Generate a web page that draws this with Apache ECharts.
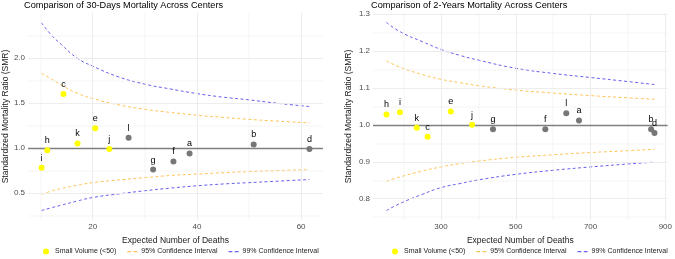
<!DOCTYPE html>
<html>
<head>
<meta charset="utf-8">
<script src="https://cdn.jsdelivr.net/npm/echarts@6/dist/echarts.min.js"></script>
<style>
html,
body,
#main {
  margin: 0;
  padding: 0;
  width: 675px;
  height: 259px;
  overflow: hidden;
  background: #fff;
}
</style>
</head>
<body>
<div id="main"></div>
<script>
// 中心编号，以及是否为小体量中心 (<50)
const centers = ["a", "b", "c", "d", "e", "f", "g", "h", "i", "j", "k", "l"];
const smallVolume = [false, false, true, false, true, false, false, true, true, true, true, false];

// 30天死亡率
const expected30 = [38.6, 50.9, 14.4, 61.6, 20.5, 35.5, 31.6, 11.3, 10.2, 23.2, 17.1, 26.9];
const smr30 = [0.94, 1.04, 1.6, 0.99, 1.22, 0.85, 0.76, 0.975, 0.78, 0.99, 1.05, 1.115];

// 2年死亡率
const expected2y = [669, 862, 264, 871, 326, 579, 439, 154, 190, 383, 235, 635];
const smr2y = [1.012, 0.988, 0.968, 0.978, 1.036, 0.988, 0.988, 1.028, 1.034, 1.0, 0.992, 1.031];

// 置信区间曲线 (30天)
const ciX30 = [10.2, 12, 14, 17, 20, 25, 30, 35, 40, 45, 50, 55, 61.6];
const upper99_30 = [2.39, 2.26, 2.15, 2.0, 1.91, 1.79, 1.71, 1.655, 1.605, 1.565, 1.535, 1.5, 1.46];
const upper95_30 = [1.83, 1.77, 1.7, 1.61, 1.55, 1.48, 1.43, 1.395, 1.365, 1.34, 1.318, 1.3, 1.28];
const lower95_30 = [0.485, 0.52, 0.55, 0.585, 0.615, 0.645, 0.67, 0.695, 0.71, 0.725, 0.738, 0.748, 0.76];
const lower99_30 = [0.305, 0.335, 0.365, 0.41, 0.45, 0.49, 0.525, 0.555, 0.58, 0.6, 0.615, 0.63, 0.65];

// 置信区间曲线 (2年)
const ciX2y = [154, 190, 250, 300, 350, 400, 500, 600, 700, 800, 871];
const upper99_2y = [1.277, 1.252, 1.225, 1.204, 1.188, 1.175, 1.153, 1.139, 1.128, 1.117, 1.109];
const upper95_2y = [1.173, 1.156, 1.136, 1.123, 1.114, 1.106, 1.094, 1.086, 1.079, 1.073, 1.069];
const lower95_2y = [0.847, 0.859, 0.875, 0.886, 0.895, 0.902, 0.912, 0.919, 0.925, 0.93, 0.934];
const lower99_2y = [0.768, 0.787, 0.812, 0.83, 0.841, 0.851, 0.866, 0.877, 0.886, 0.894, 0.899];

// 刻度
const xTicks30 = [20, 40, 60];
const xMinor30 = [10, 30, 50];
const yTicks30 = [0.5, 1.0, 1.5, 2.0];
const yMinor30 = [0.25, 0.75, 1.25, 1.75, 2.25];
const xTicks2y = [300, 500, 700, 900];
const xMinor2y = [200, 400, 600, 800];
const yTicks2y = [0.8, 0.9, 1.0, 1.1, 1.2, 1.3];
const yMinor2y = [0.75, 0.85, 0.95, 1.05, 1.15, 1.25];

const FONT = "Liberation Sans, Arial, sans-serif";
const SMALL = "Small Volume (<50)";
const CI95 = "95% Confidence Interval";
const CI99 = "99% Confidence Interval";
const ORANGE = "rgba(255,165,0,0.65)";
const BLUE = "rgba(40,30,230,0.7)";
const DASH_ICON = "path://M0,0h3v1h-3zM5,0h3v1h-3z"; // 图例中的虚线

function pairs(xs, ys) {
  return xs.map((x, i) => [x, ys[i]]);
}

function ciLine(k, name, color, data) {
  return {
    name: name,
    type: "line",
    xAxisIndex: k,
    yAxisIndex: k,
    symbol: "none", // 不显示小圆点
    smooth: true,
    silent: true,
    z: 3,
    itemStyle: { color: color },
    lineStyle: { color: color, width: 1, type: [3, 2.5] },
    data: data,
  };
}

// 一个面板的全部 series
function panelSeries(k, ex, smr, ciX, u95, l95, u99, l99, xMaj, xMin, yMaj, yMin) {
  let gridLines = [];
  xMaj.forEach((v) => gridLines.push({ xAxis: v, lineStyle: { width: 0.9 } }));
  xMin.forEach((v) => gridLines.push({ xAxis: v, lineStyle: { width: 0.45 } }));
  yMaj.forEach((v) => gridLines.push({ yAxis: v, lineStyle: { width: 0.9 } }));
  yMin.forEach((v) => gridLines.push({ yAxis: v, lineStyle: { width: 0.45 } }));

  let pts = centers.map((c, i) => [ex[i], smr[i], c]);
  let pointLabel = {
    show: true,
    position: "top",
    distance: 2,
    formatter: (p) => p.data[2],
    fontSize: 9,
    fontFamily: FONT,
    color: "#000",
  };

  return [
    {
      type: "line",
      xAxisIndex: k,
      yAxisIndex: k,
      data: [],
      silent: true,
      z: 0,
      markLine: {
        symbol: "none",
        silent: true,
        animation: false,
        label: { show: false },
        lineStyle: { color: "#ebebeb", type: "solid" },
        data: gridLines,
      },
    },
    {
      type: "line",
      xAxisIndex: k,
      yAxisIndex: k,
      data: [],
      silent: true,
      z: 1,
      markLine: {
        symbol: "none",
        silent: true,
        animation: false,
        label: { show: false },
        lineStyle: { color: "#808080", width: 1.4, type: "solid" },
        data: [{ yAxis: 1 }],
      },
    },
    ciLine(k, CI95, ORANGE, pairs(ciX, u95)),
    ciLine(k, CI95, ORANGE, pairs(ciX, l95)),
    ciLine(k, CI99, BLUE, pairs(ciX, u99)),
    ciLine(k, CI99, BLUE, pairs(ciX, l99)),
    {
      name: SMALL,
      type: "scatter",
      xAxisIndex: k,
      yAxisIndex: k,
      symbolSize: 6,
      z: 5,
      itemStyle: { color: "#ffff00", opacity: 1 },
      label: pointLabel,
      data: pts.filter((p, i) => smallVolume[i]),
    },
    {
      name: "Large",
      type: "scatter",
      xAxisIndex: k,
      yAxisIndex: k,
      symbolSize: 6,
      z: 5,
      itemStyle: { color: "#777777", opacity: 1 },
      label: pointLabel,
      data: pts.filter((p, i) => !smallVolume[i]),
    },
  ];
}

function xAxisOf(k, min, max, ticks) {
  return {
    type: "value",
    gridIndex: k,
    min: min,
    max: max,
    name: "Expected Number of Deaths",
    nameLocation: "middle",
    nameGap: 15,
    nameTextStyle: { fontSize: 8.5, fontFamily: FONT, color: "#1a1a1a" },
    axisLine: { show: false },
    axisTick: { show: false },
    splitLine: { show: false },
    axisLabel: {
      customValues: ticks,
      fontSize: 8,
      fontFamily: FONT,
      color: "#4d4d4d",
      margin: 3,
    },
  };
}

function yAxisOf(k, min, max, ticks, gap) {
  return {
    type: "value",
    gridIndex: k,
    min: min,
    max: max,
    name: "Standardized Mortality Ratio (SMR)",
    nameLocation: "middle",
    nameGap: gap,
    nameTextStyle: { fontSize: 8.5, fontFamily: FONT, color: "#1a1a1a" },
    axisLine: { show: false },
    axisTick: { show: false },
    splitLine: { show: false },
    axisLabel: {
      customValues: ticks,
      formatter: (v) => v.toFixed(1),
      fontSize: 8,
      fontFamily: FONT,
      color: "#4d4d4d",
      margin: 3,
    },
  };
}

function legendOf(left) {
  return {
    left: left,
    top: 248,
    padding: 0,
    itemWidth: 10,
    itemHeight: 6,
    itemGap: 11,
    selectedMode: false,
    symbolKeepAspect: true,
    textStyle: { fontSize: 7, fontFamily: FONT, color: "#1a1a1a", padding: [0, 0, 0, -1] },
    data: [
      { name: SMALL, icon: "circle", itemStyle: { color: "#ffff00" } },
      { name: CI95, icon: DASH_ICON, itemStyle: { color: ORANGE } },
      { name: CI99, icon: DASH_ICON, itemStyle: { color: BLUE } },
    ],
  };
}

let myChart = echarts.init(document.getElementById("main"));
let option = {
  animation: false,
  backgroundColor: "#fff",
  title: [
    {
      text: "Comparison of 30-Days Mortality Across Centers",
      left: 24,
      top: 1,
      padding: 0,
      textStyle: { fontSize: 9.2, fontWeight: "normal", fontFamily: FONT, color: "#000" },
    },
    {
      text: "Comparison of 2-Years Mortality Across Centers",
      left: 371,
      top: 1,
      padding: 0,
      textStyle: { fontSize: 9.2, fontWeight: "normal", fontFamily: FONT, color: "#000" },
    },
  ],
  legend: [legendOf(43), legendOf(392)],
  grid: [
    { left: 25, right: 352, top: 13, bottom: 39 },
    { left: 373, right: 5, top: 13, bottom: 39 },
  ],
  xAxis: [xAxisOf(0, 7.6, 64.2, xTicks30), xAxisOf(1, 118, 906, xTicks2y)],
  yAxis: [yAxisOf(0, 0.2, 2.5, yTicks30, 17), yAxisOf(1, 0.7425, 1.3025, yTicks2y, 20)],
  series: panelSeries(0, expected30, smr30, ciX30, upper95_30, lower95_30, upper99_30, lower99_30, xTicks30, xMinor30, yTicks30, yMinor30).concat(
    panelSeries(1, expected2y, smr2y, ciX2y, upper95_2y, lower95_2y, upper99_2y, lower99_2y, xTicks2y, xMinor2y, yTicks2y, yMinor2y)
  ),
};
myChart.setOption(option);
</script>
</body>
</html>
